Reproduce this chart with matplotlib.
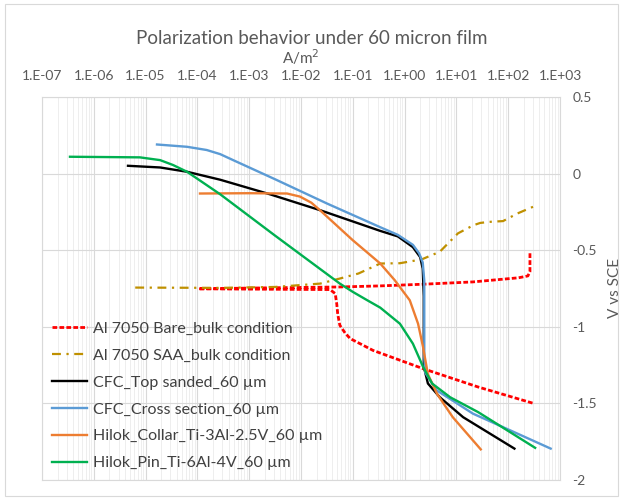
import numpy as np
import matplotlib
matplotlib.use("Agg")
import matplotlib.pyplot as plt
from matplotlib.ticker import FixedLocator, FuncFormatter, LogLocator, NullFormatter
from matplotlib.patches import Rectangle

plt.rcParams['font.family'] = ['Lato', 'DejaVu Sans']

# ---- data: log10(current density, A/m^2) and potential (V vs SCE) ----
bare_logi = [2.42, 2.42, 2.38, 2.2, 1.32, 0.36, -0.47, -1.25, -2.5, -3.98,
             -2.5, -1.44, -1.34, -1.31, -1.29, -1.25, -1.15, -1.05, -0.61, 0.355, 1.42, 2.49]
bare_v = [-0.52, -0.64, -0.668, -0.68, -0.707, -0.722, -0.733, -0.74, -0.745, -0.752,
          -0.755, -0.757, -0.783, -0.85, -0.92, -0.99, -1.04, -1.077, -1.154, -1.273, -1.393, -1.50]

saa_logi = [-5.2, -3.56, -2.5, -1.63, -1.25, -0.89, -0.47, -0.09, 0.33, 0.68, 1.03,
            1.33, 1.46, 1.64, 1.9, 2.18, 2.56]
saa_v = [-0.744, -0.746, -0.74, -0.718, -0.685, -0.652, -0.587, -0.585, -0.56, -0.51, -0.39,
         -0.337, -0.322, -0.315, -0.31, -0.26, -0.205]

top_logi = [-5.34, -4.72, -4.2, -3.56, -2.6, -1.63, -0.47, -0.13, 0.16, 0.30, 0.35,
            0.37, 0.37, 0.45, 0.68, 1.13, 2.12]
top_v = [0.051, 0.04, 0.012, -0.04, -0.135, -0.239, -0.374, -0.41, -0.48, -0.545, -0.62,
         -0.80, -1.26, -1.37, -1.46, -1.59, -1.795]

cross_logi = [-4.78, -4.2, -3.82, -3.56, -3.31, -2.5, -1.5, -0.47, -0.13, 0.16, 0.28,
              0.35, 0.38, 0.38, 0.40, 0.62, 1.32, 2.0, 2.82]
cross_v = [0.19, 0.175, 0.154, 0.127, 0.088, -0.037, -0.195, -0.35, -0.40, -0.465, -0.52,
           -0.58, -0.70, -1.20, -1.30, -1.415, -1.567, -1.67, -1.795]

collar_logi = [-3.95, -3.0, -2.27, -2.02, -1.8, -1.63, -1.0, -0.47, -0.19, 0.10, 0.26,
               0.355, 0.45, 0.63, 0.93, 1.47]
collar_v = [-0.13, -0.128, -0.13, -0.15, -0.19, -0.24, -0.435, -0.587, -0.696, -0.827, -0.98,
            -1.13, -1.31, -1.44, -1.59, -1.80]

pin_logi = [-6.46, -5.11, -4.72, -4.47, -4.2, -3.56, -2.5, -1.25, -1.0, -0.73, -0.47,
            -0.09, 0.16, 0.355, 0.53, 0.88, 1.42, 2.52]
pin_v = [0.11, 0.106, 0.088, 0.056, 0.012, -0.135, -0.405, -0.718, -0.772, -0.825, -0.875,
         -0.98, -1.11, -1.26, -1.37, -1.46, -1.557, -1.79]

labels = ["Al 7050 Bare_bulk condition", "Al 7050 SAA_bulk condition",
          "CFC_Top sanded_60 µm", "CFC_Cross section_60 µm",
          "Hilok_Collar_Ti-3Al-2.5V_60 µm", "Hilok_Pin_Ti-6Al-4V_60 µm"]
x_exponents = list(range(-7, 4))
y_ticks = [0.5, 0, -0.5, -1, -1.5, -2]

# ---- figure ----
fig = plt.figure(figsize=(6.23, 4.99), dpi=100)
fig.patches.append(Rectangle((5 / 623, 3 / 499), 613 / 623, 492 / 499, transform=fig.transFigure,
                             fill=False, edgecolor='#D9D9D9', linewidth=0.8))
ax = fig.add_axes([42 / 623, 19 / 499, 518 / 623, 383 / 499])

def L(a):
    return 10 ** np.array(a)

ax.plot(L(bare_logi), bare_v, color='#FF0000', lw=2.0, dashes=(1.7, 0.8), label=labels[0])
ax.plot(L(saa_logi), saa_v, color='#BF9000', lw=1.6, dashes=(4, 2.5, 1, 2.5), label=labels[1])
ax.plot(L(top_logi), top_v, color='#000000', lw=1.7, label=labels[2])
ax.plot(L(cross_logi), cross_v, color='#5B9BD5', lw=1.7, label=labels[3])
ax.plot(L(collar_logi), collar_v, color='#ED7D31', lw=1.7, label=labels[4])
ax.plot(L(pin_logi), pin_v, color='#00B050', lw=1.7, label=labels[5])

ax.set_xscale('log')
ax.set_xlim(10.0 ** x_exponents[0], 10.0 ** x_exponents[-1])
ax.set_ylim(-2, 0.5)

ax.xaxis.set_major_locator(FixedLocator([10.0 ** e for e in x_exponents]))
ax.xaxis.set_major_formatter(FuncFormatter(lambda v, p: "1.E{:+03d}".format(int(round(np.log10(v))))))
ax.xaxis.set_minor_locator(LogLocator(base=10, subs=np.arange(2, 10), numticks=100))
ax.xaxis.set_minor_formatter(NullFormatter())
ax.xaxis.tick_top()
ax.xaxis.set_label_position('top')
ax.yaxis.set_major_locator(FixedLocator(y_ticks))
ax.yaxis.set_major_formatter(FuncFormatter(lambda v, p: "{:g}".format(v) if v != 0 else "0"))
ax.yaxis.tick_right()
ax.yaxis.set_label_position('right')

ax.tick_params(axis='x', which='major', length=0, pad=11, labelsize=10, labelcolor='#595959')
ax.tick_params(axis='x', which='minor', length=0)
ax.tick_params(axis='y', length=0, pad=9, labelsize=10, labelcolor='#595959')

ax.grid(True, which='major', axis='both', color='#D9D9D9', lw=0.8)
ax.grid(True, which='minor', axis='x', color='#EBEBEB', lw=0.6)
ax.set_axisbelow(True)
for s in ax.spines.values():
    s.set_color('#D9D9D9')
    s.set_linewidth(0.8)

ax.set_xlabel("A/m$^2$", fontsize=11, color='#595959', labelpad=4)
ax.set_ylabel("V vs SCE", fontsize=11, color='#595959', labelpad=8)
fig.text(0.5, 1 - 38 / 499, "Polarization behavior under 60 micron film", ha='center', va='center',
         fontsize=13.5, color='#595959')

leg = ax.legend(loc='lower left', bbox_to_anchor=(0.02, 0.025), frameon=False, fontsize=11.5,
                handlelength=2.2, handletextpad=0.35, labelspacing=0.8, borderpad=0,
                borderaxespad=0)
for t in leg.get_texts():
    t.set_color('#404040')

fig.savefig("out.png", dpi=100)
